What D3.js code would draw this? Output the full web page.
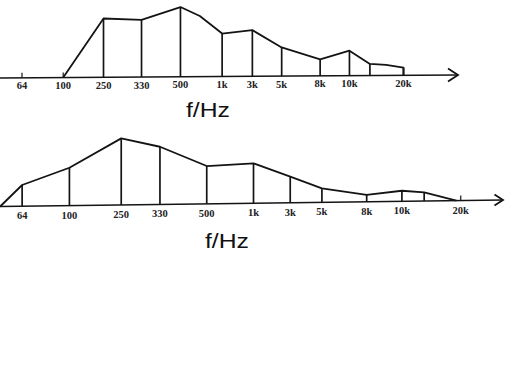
<!DOCTYPE html>
<html>
<head>
<meta charset="utf-8">
<script src="https://cdn.jsdelivr.net/npm/d3@7"></script>
<style>
  body { margin: 0; background: #fff; }
  svg { display: block; }
</style>
</head>
<body>
<script>
// 주파수 대역 (눈금 라벨)
const bandLabels = ["64", "100", "250", "330", "500", "1k", "3k", "5k", "8k", "10k", "20k"];
const bandFreqs = [64, 100, 250, 330, 500, 1000, 3000, 5000, 8000, 10000, 20000];

// 손으로 그린 축이라 간격이 고르지 않음: 화살표까지 길이를 100으로 본 눈금 위치
const topTickPos = [4.8, 13.8, 22.6, 30.9, 39.4, 48.5, 55.1, 61.5, 69.9, 76.3, 88.1];
const bottomTickPos = [4.4, 13.8, 24.1, 31.8, 41.1, 50.4, 57.7, 64.0, 72.9, 79.9, 91.6];

// 곡선 [주파수, 레벨]
const topCurve = [[100, 0], [250, 8.4], [330, 8.16], [500, 9.97], [690, 8.67], [1000, 6.14],
  [3000, 6.6], [5000, 4.1], [8000, 2.37], [10000, 3.57], [13000, 1.66], [16000, 1.5],
  [20000, 1.1], [20000, 0]];
const bottomCurve = [[52, 0], [64, 3.03], [100, 5.41], [250, 9.51], [330, 8.24], [500, 5.4],
  [1000, 5.7], [3000, 3.73], [5000, 2.0], [8000, 0.97], [10000, 1.51], [13000, 1.23], [19000, 0]];

// 세로선 / 작은 눈금
const topVerticals = [250, 330, 500, 1000, 3000, 5000, 8000, 10000, 13000, 20000];
const topSmallTicks = [64, 100];
const bottomVerticals = [64, 100, 250, 330, 500, 1000, 3000, 5000, 8000, 10000, 13000];
const bottomSmallTicks = [20000];

const width = 525, height = 384;
const ink = "#141414";

const svg = d3.select("body").append("svg")
    .attr("width", width)
    .attr("height", height);

// 레벨 스케일 (두 그래프 공통)
const yLevel = d3.scaleLinear().domain([0, 10]).range([0, 70]);

function drawChart(opt) {
    const g = svg.append("g");
    const axisLen = d3.scaleLinear().domain([0, 100]).range([0, opt.arrowX]);
    const x = d3.scaleLog()
        .domain(bandFreqs)
        .range(opt.tickPos.map(p => axisLen(p)));
    // 축이 살짝 기울어져 있음
    const base = d3.scaleLinear().domain([0, opt.arrowX]).range([opt.baseLeft, opt.baseRight]);
    const levelAt = new Map(opt.curve.filter(d => d[1] > 0).map(d => [d[0], d[1]]));

    // 축
    g.append("line")
        .attr("x1", 0).attr("y1", base(0))
        .attr("x2", opt.arrowX).attr("y2", base(opt.arrowX))
        .attr("stroke", ink).attr("stroke-width", 1.5);
    g.append("path")
        .attr("d", `M${opt.arrowX - opt.arrowW},${base(opt.arrowX) - opt.arrowH}` +
                   `L${opt.arrowX},${base(opt.arrowX)}` +
                   `L${opt.arrowX - opt.arrowW},${base(opt.arrowX) + opt.arrowH}`)
        .attr("fill", "none").attr("stroke", ink).attr("stroke-width", 1.8);

    // 세로선
    g.selectAll("line.v")
        .data(opt.verticals)
        .enter().append("line")
        .attr("class", "v")
        .attr("x1", d => x(d)).attr("x2", d => x(d))
        .attr("y1", d => base(x(d)))
        .attr("y2", d => base(x(d)) - yLevel(levelAt.get(d)))
        .attr("stroke", ink).attr("stroke-width", 1.7);

    // 작은 눈금
    g.selectAll("line.t")
        .data(opt.smallTicks)
        .enter().append("line")
        .attr("class", "t")
        .attr("x1", d => x(d)).attr("x2", d => x(d))
        .attr("y1", d => base(x(d)))
        .attr("y2", d => base(x(d)) - 5)
        .attr("stroke", ink).attr("stroke-width", 1.2);

    // 곡선
    const line = d3.line()
        .x(d => x(d[0]))
        .y(d => base(x(d[0])) - yLevel(d[1]));
    g.append("path")
        .datum(opt.curve)
        .attr("d", line)
        .attr("fill", "none")
        .attr("stroke", ink)
        .attr("stroke-width", 1.8)
        .attr("stroke-linejoin", "round");

    // 눈금 라벨
    g.selectAll("text.lab")
        .data(bandFreqs)
        .enter().append("text")
        .attr("class", "lab")
        .attr("x", d => x(d))
        .attr("y", d => base(x(d)) + opt.labelDy)
        .attr("text-anchor", "middle")
        .style("font", "bold 10.5px 'Liberation Serif', serif")
        .style("fill", "#222")
        .text((d, i) => bandLabels[i]);

    // 축 제목
    g.append("text")
        .attr("x", opt.titleX)
        .attr("y", opt.titleY)
        .attr("text-anchor", "middle")
        .attr("textLength", 44)
        .attr("lengthAdjust", "spacingAndGlyphs")
        .style("font", "21px 'Liberation Sans', Arial, sans-serif")
        .style("fill", "#111")
        .text("f/Hz");
}

drawChart({
    tickPos: topTickPos, curve: topCurve, verticals: topVerticals, smallTicks: topSmallTicks,
    arrowX: 458, baseLeft: 78, baseRight: 75, arrowW: 10, arrowH: 6.5,
    labelDy: 11.5, titleX: 208, titleY: 117
});

drawChart({
    tickPos: bottomTickPos, curve: bottomCurve, verticals: bottomVerticals, smallTicks: bottomSmallTicks,
    arrowX: 503, baseLeft: 206.5, baseRight: 200, arrowW: 8.5, arrowH: 5.5,
    labelDy: 13, titleX: 227, titleY: 248
});
</script>
</body>
</html>
